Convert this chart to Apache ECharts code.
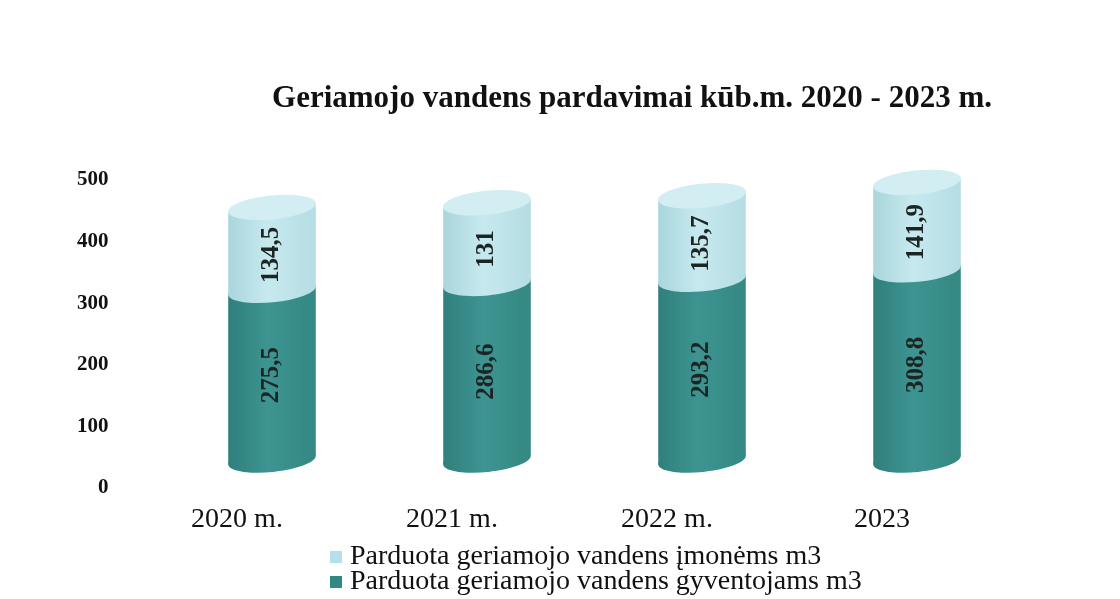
<!DOCTYPE html>
<html><head><meta charset="utf-8">
<script src="https://cdn.jsdelivr.net/npm/echarts@6/dist/echarts.min.js"></script>
<style>html,body{margin:0;padding:0;background:#fff}#c{width:1120px;height:599px}</style>
</head><body><div id="c"></div>
<script>
const categories = ['2020 m.', '2021 m.', '2022 m.', '2023'];
const residents = [275.5, 286.6, 293.2, 308.8];
const companies = [134.5, 131, 135.7, 141.9];
const yTicks = [0, 100, 200, 300, 400, 500];
const nameCompanies = 'Parduota geriamojo vandens įmonėms m3';
const nameResidents = 'Parduota geriamojo vandens gyventojams m3';
const titleText = 'Geriamojo vandens pardavimai kūb.m. 2020 - 2023 m.';

const chart = echarts.init(document.getElementById('c'));
const SERIF = '"Liberation Serif", "DejaVu Serif", serif';
const DX = 35, DY = -28, HALFW = 44, RY = 12, ROT = 0.1;

function cylinder(params, api, lowVal, highVal, bodyColor, topColor, drawTop, label) {
  const catIdx = api.value(0);
  const p0 = api.coord([catIdx, lowVal]);
  const p1 = api.coord([catIdx, highVal]);
  const cx = p0[0] + DX;
  const yb = p0[1] + DY, yt = p1[1] + DY;
  const ax = HALFW * Math.cos(ROT), ay = HALFW * Math.sin(ROT);
  const children = [];
  children.push({type: 'ellipse', shape: {cx: cx, cy: yb, rx: HALFW, ry: RY}, rotation: ROT, originX: cx, originY: yb, style: {fill: bodyColor}});
  children.push({type: 'polygon', shape: {points: [[cx - ax, yt + ay], [cx + ax, yt - ay], [cx + ax, yb - ay], [cx - ax, yb + ay]]}, style: {fill: bodyColor}});
  if (drawTop) {
    children.push({type: 'ellipse', shape: {cx: cx, cy: yt, rx: HALFW, ry: RY}, rotation: ROT, originX: cx, originY: yt, style: {fill: topColor}});
  }
  children.push({type: 'text', x: cx, y: (yb + yt) / 2 + (drawTop ? 6 : 0), rotation: Math.PI / 2,
    style: {text: label, font: 'bold 25px ' + SERIF, fill: '#1c2424', align: 'center', verticalAlign: 'middle'}});
  return {type: 'group', children: children};
}

const bodyTeal = {type: 'linear', x: 0, y: 0, x2: 1, y2: 0, colorStops: [
  {offset: 0, color: '#307f7d'}, {offset: 0.45, color: '#3d9490'}, {offset: 1, color: '#358884'}]};
const bodyBlue = {type: 'linear', x: 0, y: 0, x2: 1, y2: 0, colorStops: [
  {offset: 0, color: '#a9d6dc'}, {offset: 0.45, color: '#c6e9ee'}, {offset: 1, color: '#b5dde3'}]};

const legendCommon = {orient: 'horizontal', left: 330, itemWidth: 12, itemHeight: 12, padding: 0, icon: 'rect',
  textStyle: {fontFamily: SERIF, fontSize: 28, color: '#111', padding: [0, 0, 0, 3]}};

chart.setOption({
  animation: false,
  backgroundColor: '#ffffff',
  title: {text: titleText, left: 627, top: 78, textAlign: 'center',
    textStyle: {fontFamily: SERIF, fontWeight: 'bold', fontSize: 31, color: '#111'}},
  grid: {left: 129.5, right: 130.5, top: 180, bottom: 111},
  legend: [
    Object.assign({}, legendCommon, {top: 543, data: [nameCompanies]}),
    Object.assign({}, legendCommon, {top: 568, data: [nameResidents]})
  ],
  xAxis: {type: 'category', data: categories, axisLine: {show: false}, axisTick: {show: false},
    axisLabel: {margin: 18, fontFamily: SERIF, fontSize: 28, color: '#111'}},
  yAxis: {type: 'value', min: yTicks[0], max: yTicks[yTicks.length - 1], interval: 100,
    splitLine: {show: false}, axisLine: {show: false}, axisTick: {show: false},
    axisLabel: {margin: 21, fontFamily: SERIF, fontWeight: 'bold', fontSize: 21, color: '#111'}},
  series: [
    {name: nameResidents, type: 'custom', itemStyle: {color: '#2f8a86'},
      data: categories.map((c, i) => [i, residents[i]]),
      renderItem: (params, api) => {
        const i = api.value(0);
        return cylinder(params, api, 0, residents[i], bodyTeal, '#3e9691', false, String(residents[i]).replace('.', ','));
      }},
    {name: nameCompanies, type: 'custom', itemStyle: {color: '#b4e0e8'},
      data: categories.map((c, i) => [i, residents[i] + companies[i]]),
      renderItem: (params, api) => {
        const i = api.value(0);
        return cylinder(params, api, residents[i], residents[i] + companies[i], bodyBlue, '#d2eef2', true, String(companies[i]).replace('.', ','));
      }}
  ]
});
</script></body></html>
